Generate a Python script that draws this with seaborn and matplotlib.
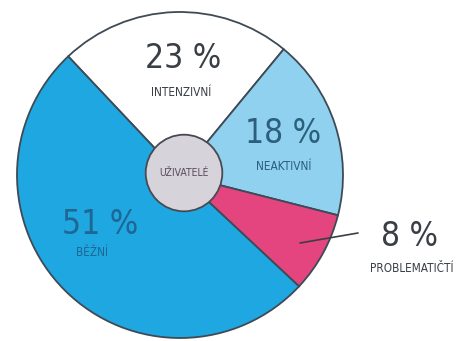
import matplotlib
matplotlib.use("Agg")
import matplotlib.pyplot as plt
import seaborn as sns

# data
segments = ["INTENZIVNÍ", "NEAKTIVNÍ", "PROBLEMATIČTÍ", "BĚŽNÍ"]
shares = [23, 18, 8, 51]
colors = ["#ffffff", "#8fd1ef", "#e4457f", "#1ea7e1"]
center_label = "UŽIVATELÉ"

sns.set_theme(style="white")
plt.rcParams['font.family'] = ['DejaVu Sans']
plt.rcParams['font.stretch'] = 'condensed'

W, H, DPI = 458, 341, 100
CX, CY, R = 180, 175, 163  # pie centre / radius in pixels


def px(x, y):
    """pixel -> data coordinates (pie radius = 1)"""
    return (x - CX) / R, (CY - y) / R


fig = plt.figure(figsize=(W / DPI, H / DPI), dpi=DPI)
ax = fig.add_axes([0, 0, 1, 1])

edge = "#3e4a55"
ax.pie(shares, colors=colors, startangle=133.3, counterclock=False,
       radius=1.0, center=(0, 0), frame=True,
       wedgeprops=dict(edgecolor=edge, linewidth=1.3))
ax.set_xlim(-CX / R, (W - CX) / R)
ax.set_ylim((CY - H) / R, CY / R)
ax.set_aspect("equal")
ax.axis("off")

# centre circle
cx0, cy0 = px(184, 173)
ax.add_patch(plt.Circle((cx0, cy0), 0.235, facecolor="#d6d3db", edgecolor="#4a4952",
                        linewidth=1.3, zorder=5))
ax.text(cx0, cy0, center_label, ha="center", va="center", fontsize=7.5,
        color="#5a4a5a", zorder=6)

# labels (pixel positions)
layout = {
    "INTENZIVNÍ": dict(pct=(183, 58), lab=(181, 92), c="#3a3f45"),
    "NEAKTIVNÍ": dict(pct=(283, 133), lab=(284, 166), c="#2b5f7c"),
    "PROBLEMATIČTÍ": dict(pct=(409, 236), lab=(412, 269), c="#3a3f45"),
    "BĚŽNÍ": dict(pct=(100, 224), lab=(92, 253), c="#1f6692"),
}
for name, share in zip(segments, shares):
    lo = layout[name]
    ax.text(*px(*lo["pct"]), f"{share} %", ha="center", va="center",
            fontsize=24, color=lo["c"], zorder=6)
    ax.text(*px(*lo["lab"]), name, ha="center", va="center",
            fontsize=8.5, color=lo["c"], zorder=6)

# leader line for the small slice
x0, y0 = px(300, 243)
x1, y1 = px(358, 233)
ax.plot([x0, x1], [y0, y1], color="#3a3f45", linewidth=1.2, zorder=6)

fig.savefig("out.png", dpi=DPI)
